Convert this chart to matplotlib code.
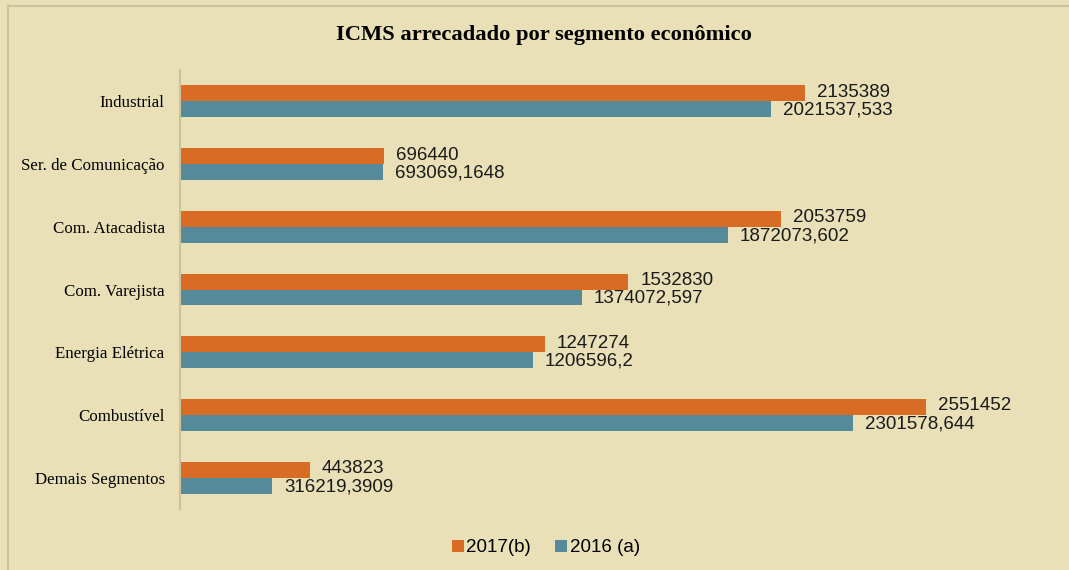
import matplotlib
matplotlib.use('agg')
import matplotlib.pyplot as plt
from matplotlib.lines import Line2D

# values
categories = ['Industrial', 'Ser. de Comunicação', 'Com. Atacadista', 'Com. Varejista',
              'Energia Elétrica', 'Combustível', 'Demais Segmentos']
v2017 = [2135389, 696440, 2053759, 1532830, 1247274, 2551452, 443823]
v2016 = [2021537.533, 693069.1648, 1872073.602, 1374072.597, 1206596.2, 2301578.644, 316219.3909]
lab2017 = ['2135389', '696440', '2053759', '1532830', '1247274', '2551452', '443823']
lab2016 = ['2021537,533', '693069,1648', '1872073,602', '1374072,597', '1206596,2',
           '2301578,644', '316219,3909']

bg = '#E9E0B8'
orange = '#D96C24'
teal = '#548A9A'
sans = ['Liberation Sans', 'DejaVu Sans']
serif = ['Liberation Serif', 'DejaVu Serif']

W, H = 1069, 570
fig = plt.figure(figsize=(W / 100, H / 100), dpi=100)
fig.patch.set_facecolor(bg)
# frame of the chart area (top and left edges only, the rest is cropped)
fig.lines.append(Line2D([8 / W, 1], [1 - 6 / H, 1 - 6 / H], transform=fig.transFigure,
                        color='#CBC3A0', linewidth=1.5))
fig.lines.append(Line2D([8 / W, 8 / W], [0, 1 - 6 / H], transform=fig.transFigure,
                        color='#CBC3A0', linewidth=1.5))

ax = fig.add_axes([180 / W, 1 - 509 / H, 860 / W, 439 / H])
ax.set_facecolor(bg)

y = list(range(len(categories)))
h = 0.255
ax.barh([i - h / 2 for i in y], v2017, height=h, color=orange, label='2017(b)')
ax.barh([i + h / 2 for i in y], v2016, height=h, color=teal, label='2016 (a)')

for i in y:
    ax.annotate(lab2017[i], (v2017[i], i - h / 2), xytext=(12, 1), textcoords='offset pixels',
                va='center', ha='left', fontsize=13.5, family=sans, color='#1a1a1a')
    ax.annotate(lab2016[i], (v2016[i], i + h / 2), xytext=(12, -1), textcoords='offset pixels',
                va='center', ha='left', fontsize=13.5, family=sans, color='#1a1a1a')

ax.set_ylim(len(categories) - 0.5, -0.5)
ax.set_xlim(0, 2.94e6)
ax.set_yticks(y)
ax.set_yticklabels(categories, family=serif, fontsize=12.2)
ax.tick_params(axis='y', length=0, pad=11)
ax.set_xticks([])
for s in ['top', 'right', 'bottom']:
    ax.spines[s].set_visible(False)
ax.spines['left'].set_color('#CBC3A0')
ax.spines['left'].set_linewidth(1.5)

fig.text(544 / W, 1 - 35 / H, 'ICMS arrecadado por segmento econômico', ha='center', va='center',
         family=serif, fontweight='bold', fontsize=16.2)

fig.legend(loc='center', bbox_to_anchor=(546 / W, 1 - 548 / H), ncol=2, frameon=False,
           prop={'family': sans, 'size': 13.5}, handlelength=0.6, handleheight=0.6,
           handletextpad=0.15, columnspacing=1.3)

fig.savefig('out.png', dpi=100, facecolor=bg)
